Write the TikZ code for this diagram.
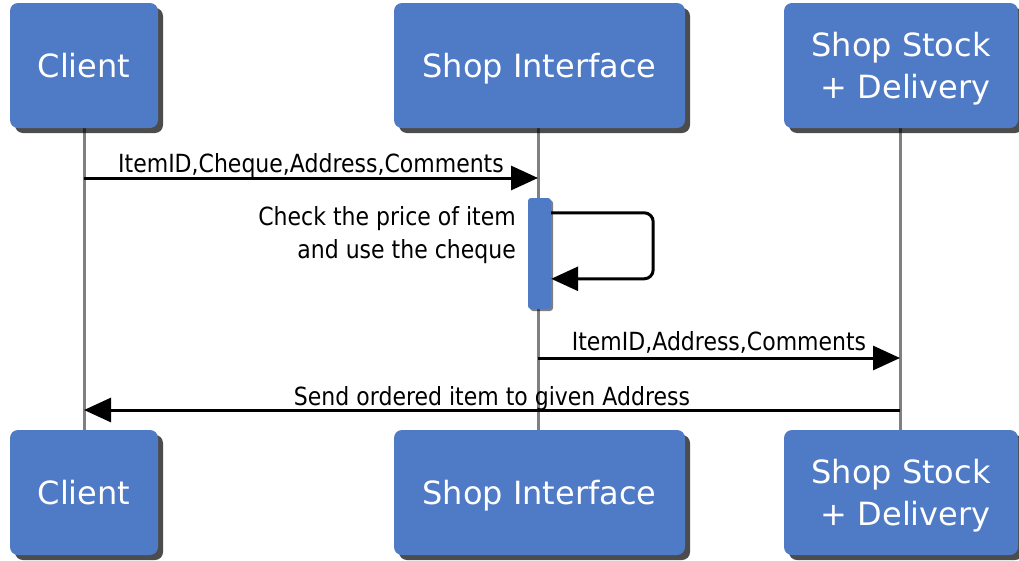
\documentclass[tikz,border=0pt]{standalone}
\usepackage{fontspec}
\setmainfont{DejaVu Sans}
\newfontfamily\boxfont{DejaVu Sans}
\newfontfamily\lblfont[FakeStretch=0.88]{DejaVu Sans}
\usetikzlibrary{arrows.meta,shadows,calc}
\definecolor{boxblue}{HTML}{4F7AC5}
\definecolor{lifegray}{HTML}{808080}
\tikzset{
  actor/.style={rectangle, rounded corners=8pt, fill=boxblue, text=white,
    font=\boxfont\fontsize{32}{42}\selectfont, align=right, inner sep=0pt,
    minimum height=125pt,
    drop shadow={shadow xshift=5pt, shadow yshift=-5pt, fill=black, opacity=0.7}},
  oneline/.style={text height=23pt, text depth=0pt},
  twoline/.style={text height=65pt, text depth=0pt},
  lifeline/.style={draw=lifegray, line width=3pt},
  msg/.style={draw=black, line width=3pt, -{Triangle[length=27pt,width=24pt]}},
  lbl/.style={font=\lblfont\fontsize{25}{33}\selectfont, text=black, inner sep=0pt},
  actbar/.style={rectangle, rounded corners=3pt, fill=boxblue, inner sep=0pt,
    minimum width=23pt, minimum height=111pt,
    drop shadow={shadow xshift=2pt, shadow yshift=-2pt, fill=black, opacity=0.5}}
}
\begin{document}
\begin{tikzpicture}[x=1pt,y=-1pt]
\useasboundingbox (0,0) rectangle (1019,560);
% lifelines first (behind)
\coordinate (cT) at (84,128);
\coordinate (cB) at (84,430);
\coordinate (sT) at (538,128);
\coordinate (sB) at (538,430);
\coordinate (dT) at (900,128);
\coordinate (dB) at (900,430);
\draw[lifeline] (cT) -- (cB);
\draw[lifeline] (sT) -- (sB);
\draw[lifeline] (dT) -- (dB);
% actor boxes
\node[actor, oneline, minimum width=148pt] (client1) at (84,65.5) {Client};
\node[actor, oneline, minimum width=291pt] (shop1) at (539.5,65.5) {Shop Interface};
\node[actor, twoline, minimum width=234pt] (stock1) at (901,65.5) {Shop Stock\\+ Delivery};
\node[actor, oneline, minimum width=148pt] (client2) at (84,492.5) {Client};
\node[actor, oneline, minimum width=291pt] (shop2) at (539.5,492.5) {Shop Interface};
\node[actor, twoline, minimum width=234pt] (stock2) at (901,492.5) {Shop Stock\\+ Delivery};
% messages
\coordinate (m1a) at (84,178);
\coordinate (m1b) at (538,178);
\draw[msg] (m1a) -- node[lbl, anchor=base, yshift=6pt] (l1) {ItemID,Cheque,Address,Comments} (m1b);
% activation
\node[actbar] (bar) at (539.5,253.5) {};
\draw[line width=3pt, rounded corners=9pt, -{Triangle[length=27pt,width=24pt]}]
  ($(bar.north east)+(0,15)$) -- ++(102,0) -- ++(0,66) -- ($(bar.north east)+(0,81)$);
\node[lbl, anchor=base east, align=right] (l2) at (516,258) {Check the price of item\\and use the cheque};
\coordinate (m3a) at (538,358);
\coordinate (m3b) at (900,358);
\draw[msg] (m3a) -- node[lbl, anchor=base, yshift=8pt] (l3) {ItemID,Address,Comments} (m3b);
\coordinate (m4a) at (900,410);
\coordinate (m4b) at (84,410);
\draw[msg] (m4a) -- node[lbl, anchor=base, yshift=5pt] (l4) {Send ordered item to given Address} (m4b);
\end{tikzpicture}
\end{document}
